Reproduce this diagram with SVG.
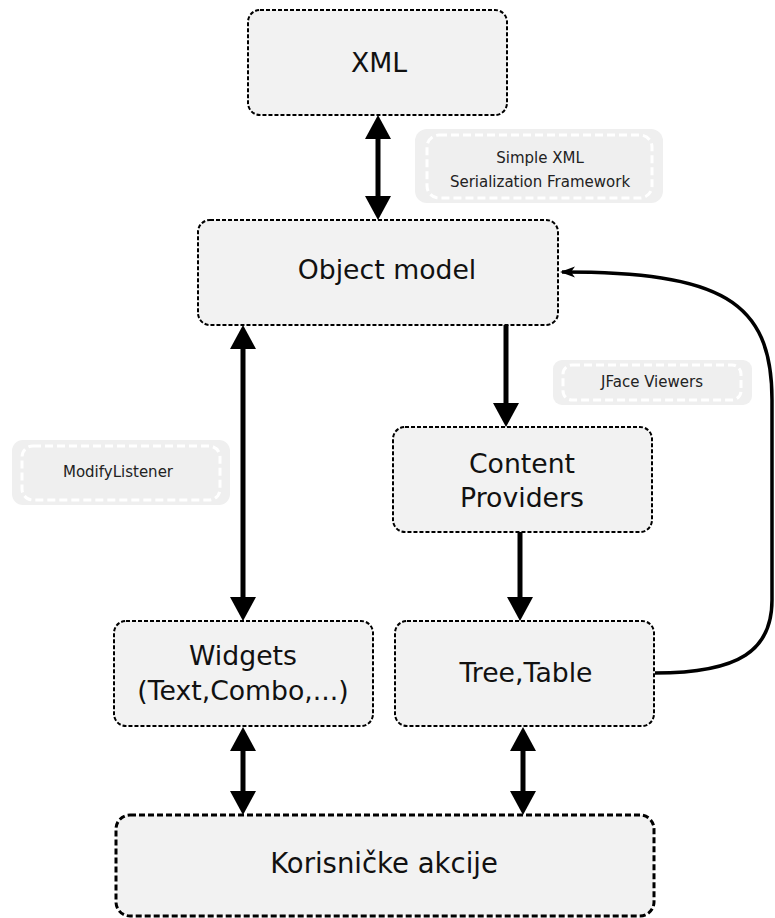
<svg xmlns="http://www.w3.org/2000/svg" width="775" height="918" viewBox="0 0 775 918">
  <defs>
    <style>
      .node rect { fill: #f2f2f2; stroke: #000; stroke-width: 2; stroke-dasharray: 4 2; }
      .node.big rect { stroke-width: 3; stroke-dasharray: 6 3; }
      .node text { font-family: "DejaVu Sans", sans-serif; font-size: 26.7px; fill: #111; text-anchor: middle; }
      .label .outer { fill: #efefef; stroke: none; }
      .label .inner { fill: none; stroke: #fff; stroke-width: 3; stroke-dasharray: 8 4; }
      .label text { font-family: "DejaVu Sans", sans-serif; font-size: 15px; fill: #222; text-anchor: middle; }
      .conn { fill: none; stroke: #000; stroke-width: 5; }
      .loop { fill: none; stroke: #000; stroke-width: 3.5; }
    </style>
    <marker id="head" viewBox="0 0 24 26" refX="0" refY="13" markerWidth="24" markerHeight="26" markerUnits="userSpaceOnUse" orient="auto-start-reverse">
      <path d="M0,0 L24,13 L0,26 Z" fill="#000"/>
    </marker>
    <marker id="barb" viewBox="-15 -6 17 12" refX="0" refY="0" markerWidth="17" markerHeight="12" markerUnits="userSpaceOnUse" orient="auto">
      <path d="M2,0 L-13,-5.5 L-9,0 L-13,5.5 Z" fill="#000"/>
    </marker>
  </defs>

  <!-- annotation labels -->
  <g id="label-serialization" class="label">
    <rect class="outer" x="415" y="129" width="248" height="74" rx="12"/>
    <rect class="inner" x="427" y="135" width="225" height="63" rx="12"/>
    <text x="540" y="163">Simple XML</text>
    <text x="540" y="187">Serialization Framework</text>
  </g>
  <g id="label-jface" class="label">
    <rect class="outer" x="553" y="360" width="199" height="45" rx="9"/>
    <rect class="inner" x="563" y="365" width="178" height="35" rx="9"/>
    <text x="652" y="387">JFace Viewers</text>
  </g>
  <g id="label-modify" class="label">
    <rect class="outer" x="12" y="440" width="218" height="65" rx="11"/>
    <rect class="inner" x="22" y="446" width="198" height="54" rx="11"/>
    <text x="118" y="477">ModifyListener</text>
  </g>

  <!-- nodes -->
  <g id="xml" class="node">
    <rect x="248" y="10" width="259" height="105" rx="12"/>
    <text x="379" y="72">XML</text>
  </g>
  <g id="object-model" class="node">
    <rect x="198" y="220" width="360" height="105" rx="12"/>
    <text x="387" y="279">Object model</text>
  </g>
  <g id="content-providers" class="node">
    <rect x="393" y="427" width="259" height="105" rx="12"/>
    <text x="522" y="473">Content</text>
    <text x="522" y="507">Providers</text>
  </g>
  <g id="widgets" class="node">
    <rect x="114" y="621" width="259" height="105" rx="12"/>
    <text x="243" y="665">Widgets</text>
    <text x="243" y="700">(Text,Combo,...)</text>
  </g>
  <g id="tree-table" class="node">
    <rect x="395" y="621" width="259" height="105" rx="12"/>
    <text x="526" y="682">Tree,Table</text>
  </g>
  <g id="user-actions" class="node big">
    <rect x="116" y="815" width="538" height="101" rx="14"/>
    <text x="384" y="873" style="font-size:27.5px">Korisničke akcije</text>
  </g>

  <!-- connectors -->
  <g id="connectors">
    <path class="conn" d="M378,139 L378,196" marker-start="url(#head)" marker-end="url(#head)"/>
    <path class="conn" d="M243,349 L243,597" marker-start="url(#head)" marker-end="url(#head)"/>
    <path class="conn" d="M506,325 L506,403" marker-end="url(#head)"/>
    <path class="conn" d="M520,532 L520,597" marker-end="url(#head)"/>
    <path class="conn" d="M243,751 L243,791" marker-start="url(#head)" marker-end="url(#head)"/>
    <path class="conn" d="M523,751 L523,791" marker-start="url(#head)" marker-end="url(#head)"/>
    <path class="loop" d="M655,673 C740,673 772,650 772,600 L772,400 C772,300 720,272 562,272" marker-end="url(#barb)"/>
  </g>
</svg>
